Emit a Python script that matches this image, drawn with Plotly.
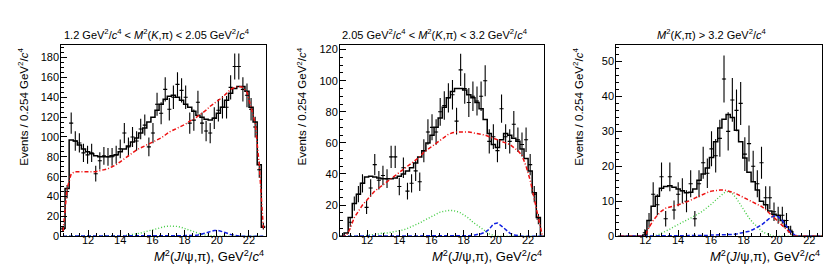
import numpy as np
import plotly.graph_objects as go

# ---------------- data ----------------
BIN_LO = 10.32
BIN_W = 0.254
N_BINS = 50

titles = [
    "1.2 GeV<sup>2</sup>/<i>c</i><sup>4</sup> &lt; <i>M</i><sup>2</sup>(<i>K</i>,π) &lt; 2.05 GeV<sup>2</sup>/<i>c</i><sup>4</sup>",
    "2.05 GeV<sup>2</sup>/<i>c</i><sup>4</sup> &lt; <i>M</i><sup>2</sup>(<i>K</i>,π) &lt; 3.2 GeV<sup>2</sup>/<i>c</i><sup>4</sup>",
    "<i>M</i><sup>2</sup>(<i>K</i>,π) &gt; 3.2 GeV<sup>2</sup>/<i>c</i><sup>4</sup>",
]
x_title = "<i>M</i><sup>2</sup>(<i>J</i>/ψ,π), GeV<sup>2</sup>/<i>c</i><sup>4</sup>"
y_title = "Events / 0.254 GeV<sup>2</sup>/<i>c</i><sup>4</sup>"

data1 = [7, 45, 114, 96, 94, 84, 82, 84, 63, 76, 81, 80, 80, 82, 88, 104, 90, 100, 96, 108,
         112, 90, 104, 133, 124, 148, 128, 140, 153, 147, 140, 114, 117, 135, 114, 106, 104, 119, 127, 130,
         130, 150, 171, 171, 148, 142, 128, 110, 67, 10]
fit1 = [8, 48, 97, 96, 92, 88, 85, 83, 81, 80, 80, 80, 81, 82, 85, 88, 91, 95, 99, 104,
        109, 115, 120, 127, 133, 138, 141, 142, 140, 137, 133, 130, 126, 122, 120, 118, 117, 119, 124, 130,
        137, 144, 149, 151, 151, 146, 130, 115, 72, 9]
bkg1 = [5, 48, 63, 65, 65, 65, 65, 65, 65, 66, 67, 68, 70, 72, 75, 78, 81, 84, 87, 89,
        91, 93, 95, 97, 99, 102, 105, 107, 109, 111, 113, 116, 118, 121, 124, 127, 131, 134, 137, 140,
        144, 148, 150, 151, 150, 145, 130, 114, 72, 8]
kst1 = [0] * 14 + [0.3, 0.6, 1, 1.5, 2.3, 3.2, 4.3, 5.5, 6.8, 8, 9, 9.8, 10.2, 10.3, 9.8, 8.8,
                   7.4, 5.8, 4.2, 2.8, 1.7, 0.9, 0.4] + [0] * 13
z1 = [0] * 31 + [0.3, 0.6, 1.2, 2, 3.2, 4.6, 5.6, 5.8, 4.8, 3.2, 1.7, 0.7, 0.2] + [0] * 6

data2 = [None, None, 9, 21, 27, 34, 18.5, 31, 46, 36, 39, 37, 51, 51, 32, 44, 29, 34, 42, 35,
         55, 67, 70, 67, 80, 84, 89, 91, 74, 107, 95, 86, 90, 87, 90, 100, 61, 64, 55, 82,
         64, 61, 72, 62, 59, 62, 46, 27, 11, None]
fit2 = [0, 2, 12, 21, 27, 34, 38, 38.5, 38, 37.5, 37, 37, 37, 37.5, 38.5, 40, 42, 44, 47, 51,
        55, 60, 65, 70, 76, 83, 89, 93, 95, 95, 94, 91, 89, 86, 82, 75, 66, 59, 57, 62,
        66, 65, 63, 61, 56, 50, 42, 28, 12, 0]
bkg2 = [0, 0, 5, 12, 16, 20, 23, 26, 29, 31, 33, 35, 37, 39, 41, 43, 45, 47, 49, 51,
        54, 56, 58, 60, 62, 64, 65.5, 66.5, 67, 67, 67, 67, 66.5, 66, 65.5, 65, 64, 63, 62, 61,
        60, 59, 57, 55, 52, 45, 36, 24, 10, 0]
kst2 = [0] * 6 + [0.5, 1, 1, 1.5, 2, 2, 2.5, 3, 3.5, 4, 5, 6, 7, 8.5, 10, 11.5, 13, 14.5, 15.5, 16,
                  16.5, 16.5, 16, 15, 13.5, 11.5, 9, 7, 5, 3, 1.5, 0.5] + [0] * 12
z2 = [0] * 31 + [0.3, 0.5, 1, 1.6, 2.6, 4.5, 7.8, 8.5, 6.5, 4, 2, 0.8, 0.3] + [0] * 6

data3 = [None] * 6 + [1, 4.5, 12, 9, 17, 5, 17, 7.5, 12, 13, 10, 15, 5, 15, 21, 18, 25, 23, 28, 45,
                      30, 39, 36, 38, 23.5, 26.5, 20, 15, 21, 11, 11, 7, 6, 6, 4.5, 1.7] + [None] * 8
fit3 = [0] * 6 + [0.3, 4.5, 8.6, 11.4, 13.7, 14.2, 14.4, 14.0, 13.5, 13, 12.4, 12.6, 13.5, 16, 17.8, 19.5,
                  22.5, 27, 31, 33.5, 34.8, 34, 30.3, 27, 22.4, 18.3, 15.6, 13.2, 10, 9, 7.2, 6.3, 5.9,
                  4.5, 2.7, 1.3] + [0] * 8
bkg3 = [0] * 6 + [0, 2.5, 4.5, 6, 7.2, 8, 8.4, 8.7, 9, 9.3, 9.7, 10.3, 10.9, 11.5, 12, 12.5, 12.9, 13.1,
                  13.2, 13.2, 13, 12.6, 12.1, 11.5, 10.9, 10.3, 9.8, 9.3, 8.5, 7.6, 6.5, 5.4, 4.3, 3.2,
                  2, 0.8] + [0] * 8
kst3 = [0] * 9 + [0.3, 0.8, 1.4, 2, 2.7, 3.4, 4, 4.6, 5.2, 5.8, 6.5, 7.3, 8.2, 9.2, 10.3, 11.4, 12.4,
                  12.8, 12.2, 10.8, 8.8, 6.9, 5.2, 3.8, 2.5, 1.5, 0.8, 0.3] + [0] * 13
z3 = [0] * 20 + [0.2, 0.2, 0.3, 0.3, 0.3, 0.4, 0.4, 0.5, 0.6, 0.8, 1.0, 1.4, 1.9, 2.5, 3.2, 4.2, 5.2,
                 5.8, 5.6, 4.5, 2.8, 1.2, 0.3] + [0] * 7

panels = [
    dict(data=data1, fit=fit1, bkg=bkg1, kst=kst1, z=z1, title=titles[0]),
    dict(data=data2, fit=fit2, bkg=bkg2, kst=kst2, z=z2, title=titles[1]),
    dict(data=data3, fit=fit3, bkg=bkg3, kst=kst3, z=z3, title=titles[2]),
]

# ---------------- layout geometry (pixels) ----------------
W, H = 833, 273
px_x = [(53.3, 257.7), (332.0, 536.0), (608.3, 814.3)]
px_top, px_bot = 36.5, 233.0
x_ranges = [[10.34, 23.04], [10.32, 22.99], [10.23, 22.79]]
y_ranges = [[0, 192.3], [0, 122.7], [0, 54.6]]
y_dticks = [20, 20, 10]
y_minor = [5, 5, 2]

FONT = "Liberation Sans, Arial, Helvetica, sans-serif"

edges = BIN_LO + BIN_W * np.arange(N_BINS + 1)
centers = edges[:-1] + BIN_W / 2

fig = go.Figure()
layout = dict(
    width=W, height=H, margin=dict(l=0, r=0, t=0, b=0),
    paper_bgcolor="white", plot_bgcolor="white",
    showlegend=False, font=dict(family=FONT, size=11, color="black"),
    annotations=[],
)

for k, p in enumerate(panels):
    xa = "x" if k == 0 else f"x{k+1}"
    ya = "y" if k == 0 else f"y{k+1}"
    d = np.array([np.nan if v is None else v for v in p["data"]], dtype=float)
    err = np.sqrt(np.where(np.isnan(d), 0, d))
    # data points
    fig.add_trace(go.Scatter(
        x=centers, y=d, mode="markers", xaxis=xa, yaxis=ya,
        marker=dict(size=1, color="black"),
        error_y=dict(type="data", array=err, visible=True, color="black", thickness=1.1, width=0),
        error_x=dict(type="constant", value=BIN_W / 2, visible=True, color="black", thickness=1.1, width=0),
    ))
    # total fit histogram
    fit = list(p["fit"])
    fig.add_trace(go.Scatter(
        x=edges, y=fit + [fit[-1]], mode="lines", line_shape="hv", xaxis=xa, yaxis=ya,
        line=dict(color="black", width=1.5),
    ))
    # components
    fig.add_trace(go.Scatter(x=centers, y=p["kst"], mode="lines", xaxis=xa, yaxis=ya,
                             line=dict(color="#44cc44", width=1.4, dash="1px,2px")))
    fig.add_trace(go.Scatter(x=centers, y=p["z"], mode="lines", xaxis=xa, yaxis=ya,
                             line=dict(color="#1020e0", width=1.5, dash="4px,2px")))
    fig.add_trace(go.Scatter(x=centers, y=p["bkg"], mode="lines", xaxis=xa, yaxis=ya,
                             line=dict(color="#ee1111", width=1.5, dash="4px,2px,1px,2px")))

    x0, x1 = px_x[k]
    dom_x = [x0 / W, x1 / W]
    dom_y = [(H - px_bot) / H, (H - px_top) / H]
    axis_common = dict(showline=True, linecolor="black", linewidth=1, mirror=True,
                       ticks="inside", tickcolor="black", tickwidth=1, showgrid=False,
                       zeroline=False, tickfont=dict(family=FONT, size=11, color="black"))
    layout["xaxis" if k == 0 else f"xaxis{k+1}"] = dict(
        axis_common, domain=dom_x, range=x_ranges[k], anchor=ya, tick0=0, dtick=2, ticklen=6,
        ticklabelstandoff=-6,
        minor=dict(ticks="inside", ticklen=3, dtick=0.5, tick0=0, tickcolor="black"),
    )
    layout["yaxis" if k == 0 else f"yaxis{k+1}"] = dict(
        axis_common, domain=dom_y, range=y_ranges[k], anchor=xa, tick0=0, dtick=y_dticks[k], ticklen=6,
        ticklabelstandoff=-1,
        minor=dict(ticks="inside", ticklen=3, dtick=y_minor[k], tick0=0, tickcolor="black"),
    )
    # panel title
    layout["annotations"].append(dict(
        text=p["title"], x=((x0 + x1) / 2 - 7) / W, y=(H - 25) / H, xref="paper", yref="paper",
        xanchor="center", yanchor="middle", showarrow=False, font=dict(family=FONT, size=11),
    ))
    # x axis title
    layout["annotations"].append(dict(
        text=x_title, x=x1 / W, y=(H - 253) / H, xref="paper", yref="paper",
        xanchor="right", yanchor="middle", showarrow=False, font=dict(family=FONT, size=13),
    ))
    # y axis title
    layout["annotations"].append(dict(
        text=y_title, x=(x0 - 38) / W, y=(H - px_top) / H, xref="paper", yref="paper",
        xanchor="center", yanchor="top", textangle=-90, showarrow=False,
        font=dict(family=FONT, size=11.5),
    ))

fig.update_layout(**layout)
fig.write_html("out.html")
